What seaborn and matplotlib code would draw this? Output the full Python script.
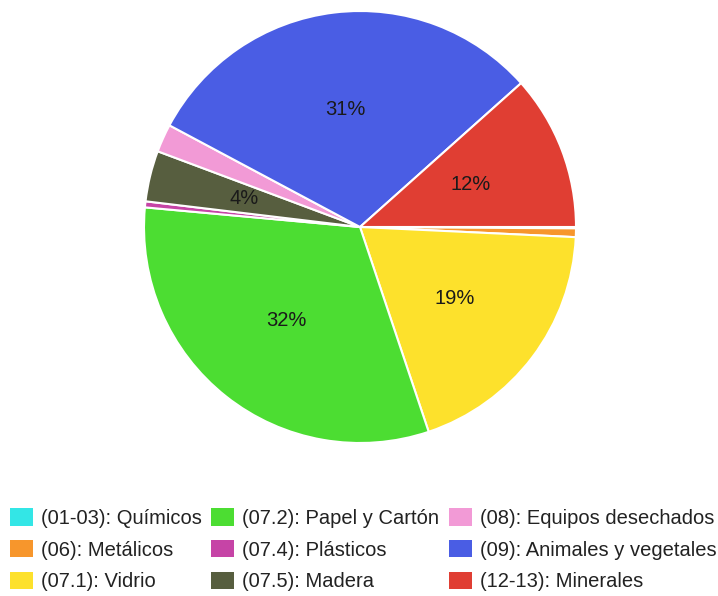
import matplotlib
matplotlib.use("Agg")
import matplotlib.pyplot as plt
import seaborn as sns
from matplotlib.patches import Patch

categories = ["(01-03): Químicos", "(06): Metálicos", "(07.1): Vidrio",
              "(07.2): Papel y Cartón", "(07.4): Plásticos", "(07.5): Madera",
              "(08): Equipos desechados", "(09): Animales y vegetales", "(12-13): Minerales"]
values = [0.1, 0.65, 19.1, 31.6, 0.45, 3.8, 2.1, 30.6, 11.6]
colors = ["#33e6e6", "#f7962c", "#fde12c", "#4cdd32", "#c644a6",
          "#575e3f", "#f29ad6", "#4a5de4", "#e03e33"]

sns.set_theme(style="white")
plt.rcParams['font.family'] = ['Liberation Sans', 'DejaVu Sans']

fig = plt.figure(figsize=(7.18, 5.96), dpi=100)
r = 216
ax = fig.add_axes([(360 - r - 3) / 718, (369 - r - 3) / 596, (2 * r + 6) / 718, (2 * r + 6) / 596])


def pct(p):
    return f"{p:.0f}%" if p >= 3 else ""


wedges, texts, autotexts = ax.pie(
    values, colors=colors, startangle=0, counterclock=False,
    autopct=pct, pctdistance=0.55,
    wedgeprops=dict(edgecolor="white", linewidth=1.5),
    textprops=dict(fontsize=14.5, color="#1a1a1a"))
lim = 1 + 3 / r
ax.set_xlim(-lim, lim)
ax.set_ylim(-lim, lim)
ax.set_aspect("equal")

handles = [Patch(facecolor=c, edgecolor="none") for c in colors]
fig.legend(handles, categories, loc="lower left", bbox_to_anchor=(-6 / 718, -0.019),
           ncol=3, frameon=False, fontsize=14.5, handlelength=1.15, handleheight=0.95,
           handletextpad=0.4, columnspacing=0.45, labelspacing=0.6, borderpad=0.3,
           labelcolor="#222222")

fig.savefig("out.png", dpi=100)
